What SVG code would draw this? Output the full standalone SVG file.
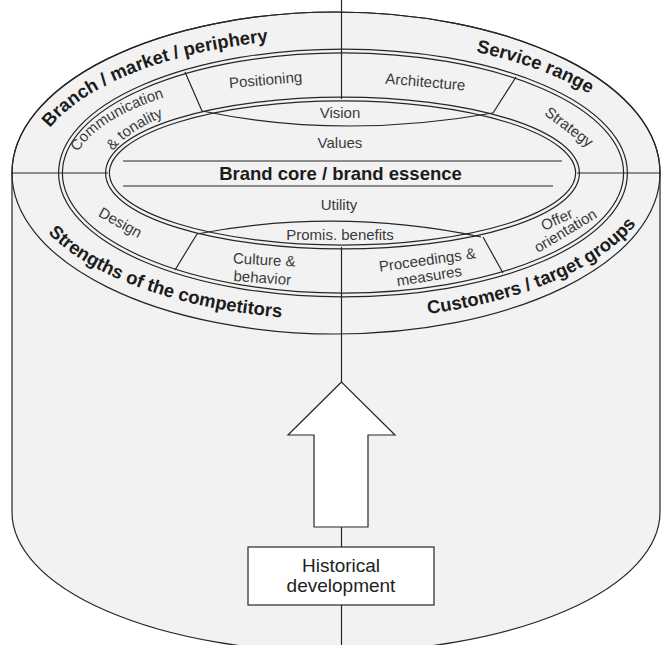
<svg xmlns="http://www.w3.org/2000/svg" width="662" height="645" viewBox="0 0 662 645">
<style>
 .ln{fill:none;stroke:#262626;stroke-width:1.2}
 .dbl{fill:none;stroke:#262626;stroke-width:5}
 .gap{fill:none;stroke:#f2f2f2;stroke-width:2.6}
 .b{font-family:"Liberation Sans",Arial,sans-serif;font-weight:bold;font-size:18.5px;fill:#1c1c1c}
 .r{font-family:"Liberation Sans",Arial,sans-serif;font-size:15px;fill:#3a3a3a}
 .c{text-anchor:middle}
 .h{font-family:"Liberation Sans",Arial,sans-serif;font-size:19px;fill:#222;text-anchor:middle}
</style>
<defs>
 <path id="pBranch" d="M 50 128 A 307 134 0 0 1 647 173"/>
 <path id="pService" d="M 476 52 A 307 134 0 0 1 647 173"/>
 <path id="pStrength" d="M 48 233 A 318 147 0 0 0 656 173"/>
 <path id="pCustomers" d="M 428 314 A 318 147 0 0 0 656 173"/>
 <path id="pComm" d="M 78 152 A 272 101 0 0 1 343 72"/>
 <path id="pTon" d="M 113 151 A 240 86 0 0 1 343 87"/>
</defs>
<rect width="662" height="645" fill="#ffffff"/>
<g id="cylinder">
 <path d="M 12 173 A 324 161 0 0 1 660 173 L 660 512 A 324 140 0 0 1 12 512 Z" fill="#f2f2f2" stroke="#262626" stroke-width="1.2"/>
 <ellipse cx="336" cy="173" rx="324" ry="161" class="ln"/>
</g>
<g id="rings">
 <ellipse cx="343" cy="173" rx="282.5" ry="122" class="dbl"/>
 <ellipse cx="343" cy="173" rx="282.5" ry="122" class="gap"/>
 <ellipse cx="342.5" cy="173" rx="235" ry="74" class="dbl"/>
 <ellipse cx="342.5" cy="173" rx="235" ry="74" class="gap"/>
</g>
<g id="connectors" class="ln">
 <path d="M 12 173 H 108 M 577 173 H 660"/>
 <path d="M 123 161 H 562 M 123 186 H 553"/>
 <path d="M 341.5 0 V 99 M 341.5 247 V 382 M 341.5 527 V 547 M 341.5 605 V 645"/>
 <path d="M 185 72 L 202 111 M 516 77 L 493 113 M 197 234 L 175 270 M 483 237 L 503 273"/>
 <path d="M 202 111 Q 342 140 493 113"/>
 <path d="M 197 234 Q 338 207 481 237"/>
</g>
<g id="branch"><text class="b"><textPath href="#pBranch">Branch / market / periphery</textPath></text></g>
<g id="service"><text class="b"><textPath href="#pService">Service range</textPath></text></g>
<g id="strengths"><text class="b"><textPath href="#pStrength">Strengths of the competitors</textPath></text></g>
<g id="customers"><text class="b"><textPath href="#pCustomers">Customers / target groups</textPath></text></g>
<g id="positioning"><text class="r c" x="266" y="85" transform="rotate(-5 266 85)">Positioning</text></g>
<g id="architecture"><text class="r c" x="425" y="87" transform="rotate(5 425 87)">Architecture</text></g>
<g id="communication"><text class="r"><textPath href="#pComm">Communication</textPath></text><text class="r"><textPath href="#pTon">&amp; tonality</textPath></text></g>
<g id="strategy"><text class="r c" x="566" y="131" transform="rotate(37 566 131)">Strategy</text></g>
<g id="design"><text class="r c" x="118" y="227" transform="rotate(29 118 227)">Design</text></g>
<g id="culture"><text class="r c" x="264" y="265" transform="rotate(3 264 265)">Culture &amp;</text><text class="r c" x="262" y="283" transform="rotate(4 262 283)">behavior</text></g>
<g id="proceedings"><text class="r c" x="428" y="265" transform="rotate(-8 428 265)">Proceedings &amp;</text><text class="r c" x="430" y="281" transform="rotate(-9 430 281)">measures</text></g>
<g id="offer"><text class="r c" x="559" y="224" transform="rotate(-25 559 224)">Offer</text><text class="r c" x="568" y="235" transform="rotate(-31 568 235)">orientation</text></g>
<g id="vision"><text class="r c" x="340" y="118">Vision</text></g>
<g id="values"><text class="r c" x="340" y="148">Values</text></g>
<g id="core"><text class="b c" x="340.5" y="180">Brand core / brand essence</text></g>
<g id="utility"><text class="r c" x="339" y="210">Utility</text></g>
<g id="benefits"><text class="r c" x="340" y="240">Promis. benefits</text></g>
<g id="arrow"><polygon points="341.5,382 288,435 314,435 314,527 368,527 368,435 395,435" fill="#ffffff" stroke="#262626" stroke-width="1.2"/></g>
<g id="history"><rect x="248" y="547" width="186" height="58" fill="#ffffff" stroke="#262626" stroke-width="1.2"/><text class="h" x="341" y="572">Historical</text><text class="h" x="341" y="592">development</text></g>
</svg>
